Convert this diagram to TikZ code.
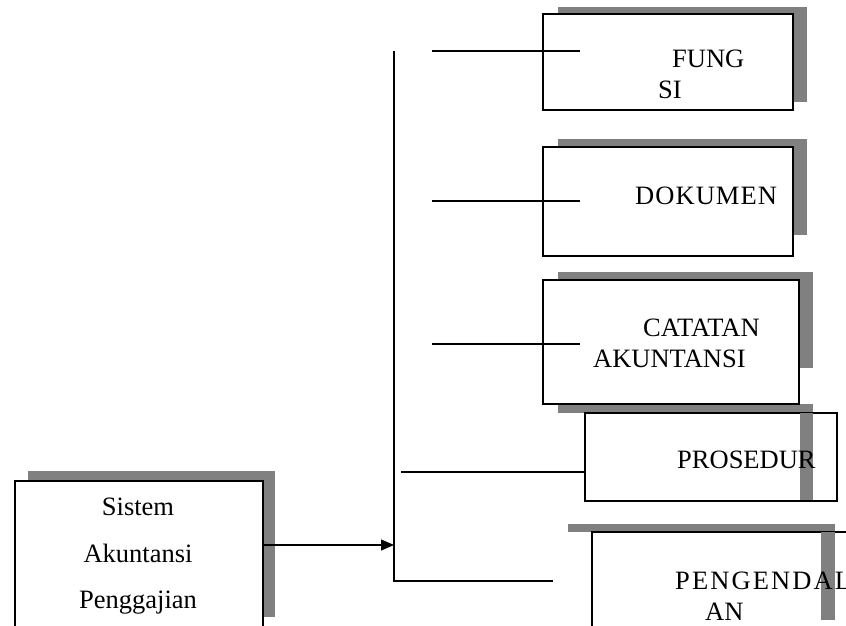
\documentclass[tikz,border=0pt]{standalone}
\usepackage{fontspec}
\setmainfont{Liberation Serif}
\usetikzlibrary{arrows.meta}
\definecolor{shade}{HTML}{808080}
\begin{document}
\begin{tikzpicture}[x=1pt,y=-1pt,
  boxshape/.style={draw=black,line width=1.3pt,fill=white},
  shadowfill/.style={fill=shade,draw=none},
  lbl/.style={inner sep=0pt,anchor=base west,font=\fontsize{26.5}{30}\selectfont},
  clbl/.style={inner sep=0pt,anchor=base,font=\fontsize{26.5}{30}\selectfont},
  conn/.style={draw=black,line width=1.1pt}]
\useasboundingbox (0,0) rectangle (846,626);
\clip (0,0) rectangle (846,626);
% shadows
\fill[shadowfill] (558,7) rectangle (807,102);
\fill[shadowfill] (558,139) rectangle (807,235);
\fill[shadowfill] (558,272) rectangle (813,368);
\fill[shadowfill] (558,404) rectangle (813,413);
\fill[shadowfill] (568,524) rectangle (835,532);
\fill[shadowfill] (28,471) rectangle (275,617);
% boxes
\node[boxshape,minimum width=250pt,minimum height=96pt,inner sep=0pt] (fungsi) at (668,62) {};
\node[boxshape,minimum width=250pt,minimum height=109pt,inner sep=0pt] (dokumen) at (668,201.5) {};
\node[boxshape,minimum width=256pt,minimum height=124pt,inner sep=0pt] (catatan) at (671,342) {};
\node[boxshape,minimum width=252pt,minimum height=88pt,inner sep=0pt] (prosedur) at (711,457) {};
\node[boxshape,minimum width=270pt,minimum height=120pt,inner sep=0pt] (pengendalian) at (727,592) {};
\node[boxshape,minimum width=248pt,minimum height=160pt,inner sep=0pt] (sistem) at (139,561) {};
% shadow strips showing through
\fill[shadowfill] (800,413) rectangle (813,500);
\fill[shadowfill] (821,532) rectangle (835,620);
% labels
\node[lbl] (t1) at (672,67) {FUNG};
\node[lbl] (t2) at (658,99) {SI};
\node[lbl] (t3) at (635,204) {\addfontfeature{LetterSpace=4}DOKUMEN};
\node[lbl] (t4) at (643,336) {CATATAN};
\node[lbl] (t5) at (593,367) {AKUNTANSI};
\node[lbl] (t6) at (677,468) {PROSEDUR};
\node[lbl] (t7) at (675,589) {\addfontfeature{LetterSpace=8}PENGENDALI};
\node[lbl] (t8) at (705,620) {AN};
\node[clbl] (s1) at (138,515) {Sistem};
\node[clbl] (s2) at (138,562) {Akuntansi};
\node[clbl] (s3) at (138,608) {Penggajian};
% connectors
\coordinate (vtop) at (394,51);
\coordinate (vbot) at (394,581);
\coordinate (arr) at (394,545);
\coordinate (f1) at (432,51);
\coordinate (f2) at (580,51);
\coordinate (d1) at (432,201);
\coordinate (d2) at (580,201);
\coordinate (c1) at (432,344);
\coordinate (c2) at (580,344);
\coordinate (p1) at (401,472);
\coordinate (e2) at (553,581);
\draw[conn] (vtop) -- (vbot) -- (e2);
\draw[conn] (f1) -- (f2);
\draw[conn] (d1) -- (d2);
\draw[conn] (c1) -- (c2);
\draw[conn] (p1) -- (p1 -| prosedur.west);
\draw[conn,-{Triangle[length=13pt,width=11pt]}] (sistem.east |- arr) -- (arr);
\end{tikzpicture}
\end{document}
